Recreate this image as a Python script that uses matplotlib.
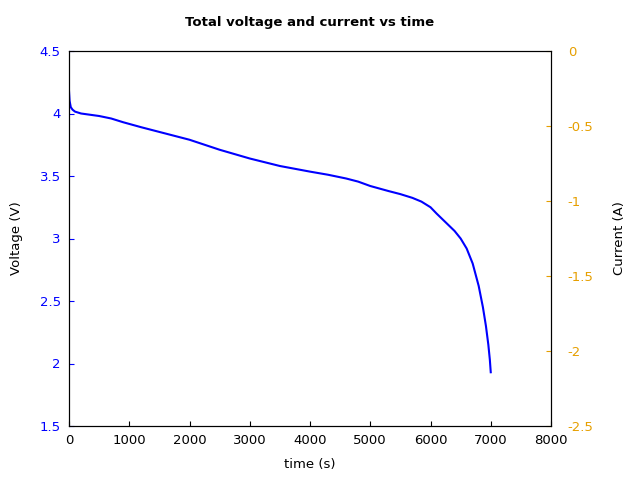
import matplotlib
matplotlib.use("Agg")
import matplotlib.pyplot as plt
from matplotlib.ticker import FuncFormatter

# voltage vs time
time_s = [0, 10, 30, 60, 100, 200, 350, 500, 700, 900, 1200, 1600, 2000, 2500,
          3000, 3500, 4000, 4300, 4600, 4800, 5000, 5300, 5500, 5700, 5850,
          6000, 6100, 6250, 6400, 6500, 6600, 6700, 6800, 6870, 6920, 6960,
          6985, 7000]
voltage_v = [4.18, 4.10, 4.05, 4.03, 4.015, 4.0, 3.99, 3.98, 3.96, 3.93, 3.89,
             3.84, 3.79, 3.71, 3.64, 3.58, 3.535, 3.51, 3.48, 3.455, 3.42, 3.38,
             3.355, 3.325, 3.295, 3.25, 3.20, 3.13, 3.06, 3.0, 2.92, 2.80, 2.62,
             2.45, 2.30, 2.15, 2.03, 1.93]

fig = plt.figure(figsize=(6.4, 4.8), dpi=100)
ax = fig.add_axes([69/640, 1-426/480, (551-69)/640, (426-51)/480])
ax.plot(time_s, voltage_v, color="blue", lw=1.5)
ax.set_xlim(0, 8000)
ax.set_ylim(1.5, 4.5)
ax.set_xticks(range(0, 8001, 1000))
ax.set_yticks([1.5, 2, 2.5, 3, 3.5, 4, 4.5])
fmt = FuncFormatter(lambda v, p: ("%g" % v))
ax.yaxis.set_major_formatter(fmt)
ax.tick_params(direction="in", labelsize=9.5, pad=6)
ax.tick_params(axis="y", colors="blue")
ax.set_xlabel("time (s)", fontsize=9.5, labelpad=8)
ax.set_ylabel("Voltage (V)", fontsize=9.5, labelpad=12)
ax.set_title("Total voltage and current vs time", fontsize=9.5,
             fontweight="bold", pad=18)

ax2 = ax.twinx()
ax2.set_ylim(-2.5, 0)
ax2.set_yticks([-2.5, -2, -1.5, -1, -0.5, 0])
ax2.yaxis.set_major_formatter(fmt)
ax2.tick_params(direction="in", labelsize=9.5, colors="#e69f00", pad=12)
ax2.set_ylabel("Current (A)", fontsize=9.5, labelpad=14)

fig.savefig("out.png", dpi=100)
